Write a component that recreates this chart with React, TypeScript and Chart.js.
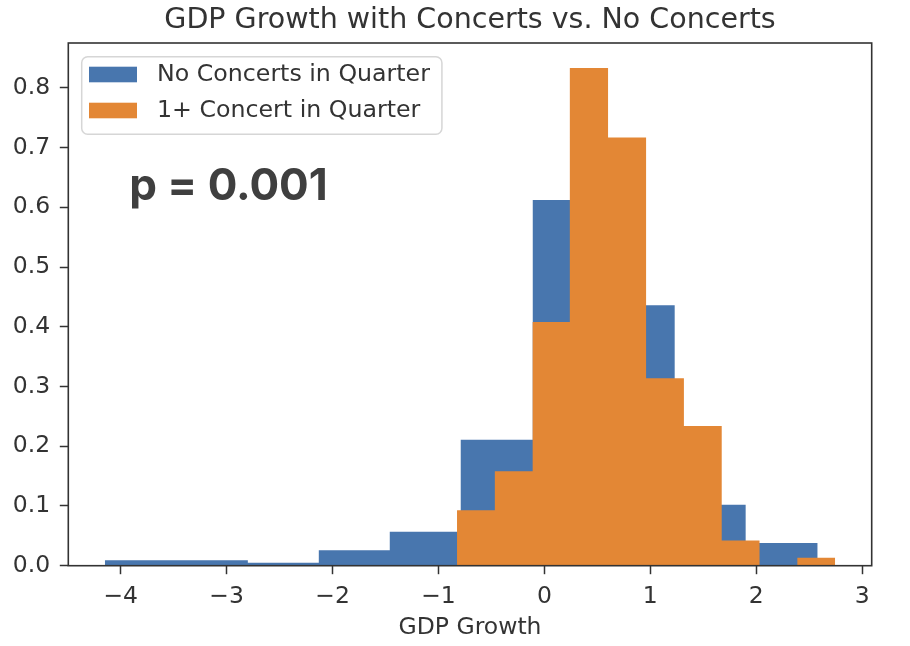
import React, { useEffect, useRef } from "react";
import { Chart, registerables } from "chart.js";

Chart.register(...registerables);

// ---- data ----
const chartTitle = "GDP Growth with Concerts vs. No Concerts";
const xAxisLabel = "GDP Growth";
const seriesLabels = ["No Concerts in Quarter", "1+ Concert in Quarter"];

const noConcertBinEdges = [
  -4.15, -3.81, -3.48, -3.14, -2.8, -2.47, -2.13, -1.8, -1.46, -1.12, -0.79,
  -0.45, -0.11, 0.22, 0.56, 0.9, 1.23, 1.57, 1.9, 2.24, 2.58,
];
const noConcertDensity = [
  0.009, 0.009, 0.009, 0.009, 0.005, 0.005, 0.026, 0.026, 0.057, 0.057, 0.211,
  0.211, 0.612, 0.612, 0.55, 0.436, 0.22, 0.102, 0.038, 0.038,
];

const concertBinEdges = [
  -0.825, -0.468, -0.111, 0.24, 0.601, 0.96, 1.317, 1.674, 2.031, 2.388, 2.745,
];
const concertDensity = [0.093, 0.158, 0.408, 0.833, 0.717, 0.314, 0.234, 0.042, 0, 0.0135];

const xTickValues = [-4, -3, -2, -1, 0, 1, 2, 3];
const yTickValues = [0, 0.1, 0.2, 0.3, 0.4, 0.5, 0.6, 0.7, 0.8];

const pValueText = "p = 0.001";
const pValueAnchor = { x: -3.92, y: 0.612 };

// ---- style ----
const BLUE = "#4876ae";
const ORANGE = "#e38735";
const TEXT = "#333333";
const FONT = "DejaVu Sans";

function stepPoints(edges: number[], heights: number[]) {
  const pts = heights.map((h, i) => ({ x: edges[i], y: h }));
  pts.push({ x: edges[edges.length - 1], y: heights[heights.length - 1] });
  return pts;
}

const framePlugin = {
  id: "mplFrame",
  afterDatasetsDraw(chart: any) {
    const { ctx, chartArea: a } = chart;
    ctx.save();
    ctx.strokeStyle = TEXT;
    ctx.lineWidth = 1.6;
    ctx.strokeRect(a.left, a.top, a.right - a.left, a.bottom - a.top);
    ctx.restore();
  },
};

const legendPlugin = {
  id: "mplLegend",
  afterDraw(chart: any) {
    const { ctx, chartArea: a } = chart;
    const ds = chart.data.datasets;
    ctx.save();
    ctx.font = `23.7px "${FONT}"`;
    const textW = Math.max(...ds.map((d: any) => ctx.measureText(d.label).width));
    const x0 = a.left + 13.4;
    const y0 = a.top + 13.7;
    const padL = 7.3, patchW = 48, patchH = 15.6, gap = 20, padR = 12;
    const w = padL + patchW + gap + textW + padR;
    const h = 77.6;
    const rowH = 36;
    ctx.beginPath();
    ctx.roundRect(x0, y0, w, h, 6);
    ctx.fillStyle = "rgba(255,255,255,0.8)";
    ctx.fill();
    ctx.strokeStyle = "#d6d6d6";
    ctx.lineWidth = 1.5;
    ctx.stroke();
    ds.forEach((d: any, i: number) => {
      const cy = y0 + 17.8 + i * rowH;
      ctx.fillStyle = d.backgroundColor;
      ctx.fillRect(x0 + padL, cy - patchH / 2, patchW, patchH);
      ctx.fillStyle = TEXT;
      ctx.textBaseline = "middle";
      ctx.textAlign = "left";
      ctx.fillText(d.label, x0 + padL + patchW + gap, cy + 0.5);
    });
    ctx.restore();
  },
};

const pValuePlugin = {
  id: "pValue",
  afterDraw(chart: any) {
    const { ctx, scales } = chart;
    const x = scales.x.getPixelForValue(pValueAnchor.x);
    const y = scales.y.getPixelForValue(pValueAnchor.y);
    ctx.save();
    ctx.font = `bold 44px Inter`;
    ctx.fillStyle = "#3f3f3f";
    ctx.textBaseline = "alphabetic";
    ctx.textAlign = "left";
    ctx.fillText(pValueText, x, y);
    ctx.restore();
  },
};

export default function App() {
  const canvasRef = useRef<HTMLCanvasElement | null>(null);

  useEffect(() => {
    if (!canvasRef.current) return;
    const chart = new Chart(canvasRef.current, {
      type: "line",
      data: {
        datasets: [
          {
            label: seriesLabels[0],
            data: stepPoints(noConcertBinEdges, noConcertDensity),
            stepped: true,
            fill: "origin",
            backgroundColor: BLUE,
            borderColor: "rgba(0,0,0,0)",
            borderWidth: 0,
            pointRadius: 0,
            order: 2,
          },
          {
            label: seriesLabels[1],
            data: stepPoints(concertBinEdges, concertDensity),
            stepped: true,
            fill: "origin",
            backgroundColor: ORANGE,
            borderColor: "rgba(0,0,0,0)",
            borderWidth: 0,
            pointRadius: 0,
            order: 1,
          },
        ],
      },
      options: {
        animation: false,
        responsive: true,
        maintainAspectRatio: false,
        layout: { padding: { left: 0, right: 38.3, top: 0, bottom: 0 } },
        plugins: {
          legend: { display: false },
          tooltip: { enabled: false },
          title: {
            display: true,
            text: chartTitle,
            fullSize: false,
            color: TEXT,
            font: { family: FONT, size: 28.5, weight: "normal" },
            padding: { top: 3, bottom: 5.8 },
          },
        },
        scales: {
          x: {
            type: "linear",
            min: -4.495,
            max: 3.09,
            afterBuildTicks: (s: any) => {
              s.ticks = xTickValues.map((v) => ({ value: v }));
            },
            afterFit: (s: any) => {
              s.height = 80.3;
            },
            ticks: {
              color: TEXT,
              font: { family: FONT, size: 23.5 },
              padding: 8.7,
              maxRotation: 0,
              autoSkip: false,
              callback: (v: any) => String(v).replace("-", "\u2212"),
            },
            grid: {
              display: true,
              drawOnChartArea: false,
              drawTicks: true,
              tickLength: 8.5,
              tickColor: TEXT,
              tickWidth: 1.5,
            },
            border: { display: false },
            title: {
              display: true,
              text: xAxisLabel,
              color: TEXT,
              font: { family: FONT, size: 23.5 },
              padding: { top: 0, bottom: 4 },
            },
          },
          y: {
            type: "linear",
            min: 0,
            max: 0.875,
            afterBuildTicks: (s: any) => {
              s.ticks = yTickValues.map((v) => ({ value: v }));
            },
            afterFit: (s: any) => {
              s.width = 68.3;
            },
            ticks: {
              color: TEXT,
              font: { family: FONT, size: 23.5 },
              padding: 9.6,
              autoSkip: false,
              callback: (v: any) => Number(v).toFixed(1),
            },
            grid: {
              display: true,
              drawOnChartArea: false,
              drawTicks: true,
              tickLength: 8.5,
              tickColor: TEXT,
              tickWidth: 1.5,
            },
            border: { display: false },
          },
        },
      },
      plugins: [framePlugin, legendPlugin, pValuePlugin],
    } as any);
    return () => chart.destroy();
  }, []);

  return (
    <div style={{ position: "absolute", left: 0, top: 0, width: 910, height: 646, background: "#fff" }}>
      <canvas ref={canvasRef} />
    </div>
  );
}
